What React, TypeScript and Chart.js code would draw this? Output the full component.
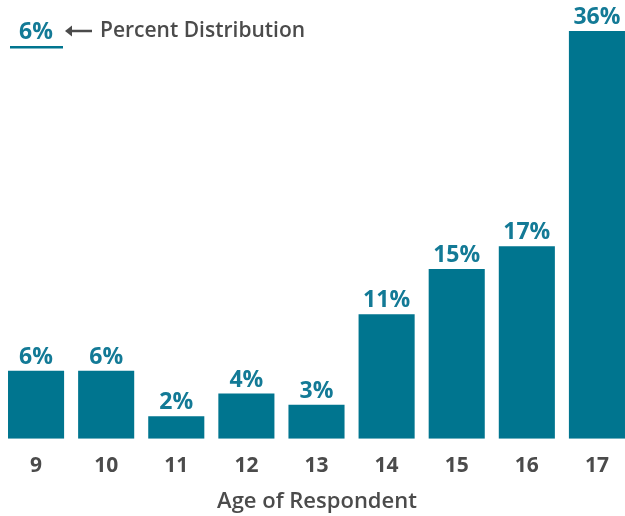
import React, { useEffect, useRef } from "react";
import { Chart, registerables } from "chart.js";

Chart.register(...registerables);

const ages = ["9", "10", "11", "12", "13", "14", "15", "16", "17"];
const percents = [6, 6, 2, 4, 3, 11, 15, 17, 36];
const axisTitle = "Age of Respondent";
const keyValue = "6%";
const keyText = "Percent Distribution";

const BAR = "#00758f";
const LABEL = "#137a96";
const GRAY = "#4b4b4b";
const FONT = "'Open Sans', 'Lato', sans-serif";

// Percentage labels drawn above each bar
const valueLabels = {
  id: "valueLabels",
  afterDatasetsDraw(chart: any) {
    const { ctx } = chart;
    const meta = chart.getDatasetMeta(0);
    ctx.save();
    ctx.fillStyle = LABEL;
    ctx.font = `700 23px ${FONT}`;
    ctx.textAlign = "center";
    ctx.textBaseline = "bottom";
    meta.data.forEach((bar: any, i: number) => {
      ctx.fillText(`${percents[i]}%`, bar.x, bar.y - 2);
    });
    ctx.restore();
  },
};

// Key in the top-left corner and the x-axis title
const annotations = {
  id: "annotations",
  afterDraw(chart: any) {
    const { ctx } = chart;
    ctx.save();
    ctx.textBaseline = "middle";
    ctx.textAlign = "center";
    ctx.fillStyle = LABEL;
    ctx.font = `700 23px ${FONT}`;
    ctx.fillText(keyValue, 36, 32);
    ctx.fillStyle = BAR;
    ctx.fillRect(10, 46, 53, 2.5);

    // left arrow
    ctx.strokeStyle = GRAY;
    ctx.fillStyle = GRAY;
    ctx.lineWidth = 2.5;
    ctx.beginPath();
    ctx.moveTo(70, 31);
    ctx.lineTo(92, 31);
    ctx.stroke();
    ctx.beginPath();
    ctx.moveTo(65, 31);
    ctx.lineTo(72, 25.5);
    ctx.lineTo(72, 36.5);
    ctx.closePath();
    ctx.fill();

    ctx.textAlign = "left";
    ctx.font = `600 21px ${FONT}`;
    ctx.fillText(keyText, 100, 31);

    ctx.textAlign = "center";
    ctx.font = `600 22px ${FONT}`;
    ctx.fillText(axisTitle, 317, 502);
    ctx.restore();
  },
};

export default function App() {
  const ref = useRef<HTMLCanvasElement>(null);

  useEffect(() => {
    if (!ref.current) return;
    const chart = new Chart(ref.current, {
      type: "bar",
      data: {
        labels: ages,
        datasets: [
          {
            data: percents,
            backgroundColor: BAR,
            borderWidth: 0,
            barPercentage: 0.8,
            categoryPercentage: 1,
          },
        ],
      },
      options: {
        responsive: false,
        animation: false,
        devicePixelRatio: 1,
        layout: { padding: { top: 31, left: 1, right: 0, bottom: 22 } },
        plugins: {
          legend: { display: false },
          tooltip: { enabled: false },
        },
        scales: {
          x: {
            grid: { display: false, drawTicks: false },
            border: { display: false },
            ticks: {
              color: GRAY,
              font: { family: FONT, size: 21, weight: "bold" },
              padding: 15,
            },
          },
          y: {
            display: false,
            min: 0,
            max: 36,
          },
        },
      },
      plugins: [valueLabels, annotations],
    });
    return () => chart.destroy();
  }, []);

  return (
    <div
      style={{
        position: "absolute",
        left: 0,
        top: 0,
        width: 625,
        height: 516,
        overflow: "hidden",
        background: "#fff",
      }}
    >
      <canvas ref={ref} width={632} height={516} style={{ display: "block" }} />
    </div>
  );
}
